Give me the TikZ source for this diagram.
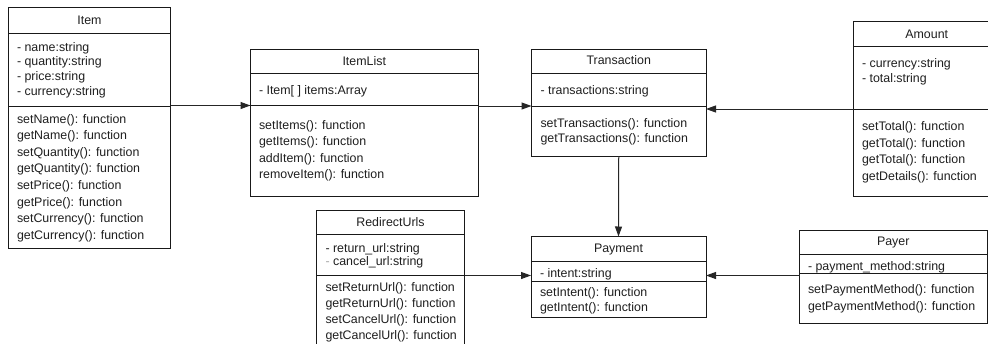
\documentclass[tikz,border=0pt]{standalone}
\usepackage{fontspec}
\setmainfont{Liberation Sans}
\usetikzlibrary{arrows.meta,fit}
\tikzset{
  cls/.style={draw=black!90, line width=1pt, inner sep=0pt, outer sep=0pt, fill=white},
  txt/.style={inner sep=0pt, outer sep=0pt, text=black!88, font=\fontsize{12.4}{14}\selectfont},
  conn/.style={draw=black!85, line width=1pt, -{Triangle[length=10pt,width=7pt]}},
  sepline/.style={draw=black!90, line width=1pt},
}
% name, x1, y1, x2, y2, header y, divider y, title baseline, title
\newcommand\umlclass[9]{%
  \node[cls, fit={(#2,#3) (#4,#5)}] (#1) {};
  \draw[sepline] (#2,#6) -- (#4,#6);
  \draw[sepline] (#2,#7) -- (#4,#7);
  \node[txt, anchor=base] (#1title) at ({(#2+#4)/2},#8) {#9};
}
% name prefix, x, first baseline, line step, list
\newcommand\umllines[5]{%
  \foreach \t [count=\i] in {#5} {
    \node[txt, anchor=base west] (#1\i) at (#2,{#3+(\i-1)*#4}) {\t};
  }
}
\begin{document}
\begin{tikzpicture}[x=1pt,y=-1pt]
\clip (0,0) rectangle (988,343);
\fill[white] (0,0) rectangle (988,343);

% Item
\umlclass{item}{8.5}{7.5}{170.5}{248.5}{33.5}{106}{24.5}{Item}
\umllines{itemA}{17}{51}{14.7}{- name:string, - quantity:string, - price:string, - currency:string}
\umllines{itemM}{17}{123}{16.6}{setName(): function, getName(): function, setQuantity(): function, getQuantity(): function, setPrice(): function, getPrice(): function, setCurrency(): function, getCurrency(): function}

% ItemList
\umlclass{itemlist}{250.5}{49}{478}{196}{73.5}{105.5}{65}{ItemList}
\umllines{itemlistA}{259}{94}{15}{- Item[ ] items:Array}
\umllines{itemlistM}{259}{129.5}{16.3}{setItems(): function, getItems(): function, addItem(): function, removeItem(): function}

% Transaction
\umlclass{trans}{531.5}{49}{706}{156}{73.5}{106.5}{64.5}{Transaction}
\umllines{transA}{540.5}{94.5}{15}{- transactions:string}
\umllines{transM}{540.5}{127}{15}{setTransactions(): function, getTransactions(): function}

% Amount
\umlclass{amount}{853.5}{21.5}{1000}{196}{46.5}{109}{38}{Amount}
\umllines{amountA}{862}{67}{15.3}{- currency:string, - total:string}
\umllines{amountM}{862}{130.5}{16.7}{setTotal(): function, getTotal(): function, getTotal(): function, getDetails(): function}

% RedirectUrls
\umlclass{redirect}{316.5}{210}{464.5}{360}{234.5}{275}{226}{RedirectUrls}
\umllines{redirectA}{325.5}{252}{13.7}{- return\_url:string, {{\color{black!35}-} cancel\_url:string}}
\umllines{redirectM}{325.5}{291}{16.2}{setReturnUrl(): function, getReturnUrl(): function, setCancelUrl(): function, getCancelUrl(): function}

% Payment
\umlclass{payment}{531}{236.5}{706}{317}{261.5}{281}{252}{Payment}
\umllines{paymentA}{540}{277}{15}{- intent:string}
\umllines{paymentM}{540}{296}{15.5}{setIntent(): function, getIntent(): function}

% Payer
\umlclass{payer}{799.5}{230}{987}{323.5}{254.5}{273.5}{245.5}{Payer}
\umllines{payerA}{808}{270.5}{15}{- payment\_method:string}
\umllines{payerM}{808}{293.5}{17}{setPaymentMethod(): function, getPaymentMethod(): function}

% connectors
\coordinate (ya) at (0,105.5);
\coordinate (yb) at (0,106);
\coordinate (yc) at (0,109);
\coordinate (yd) at (0,275.5);
\draw[conn] (item.east |- ya) -- (itemlist.west |- ya);
\draw[conn] (itemlist.east |- yb) -- (trans.west |- yb);
\draw[conn] (amount.west |- yc) -- (trans.east |- yc);
\draw[conn] (trans.south) -- (payment.north);
\draw[conn] (redirect.east |- yd) -- (payment.west |- yd);
\draw[conn] (payer.west |- yd) -- (payment.east |- yd);
\end{tikzpicture}
\end{document}
